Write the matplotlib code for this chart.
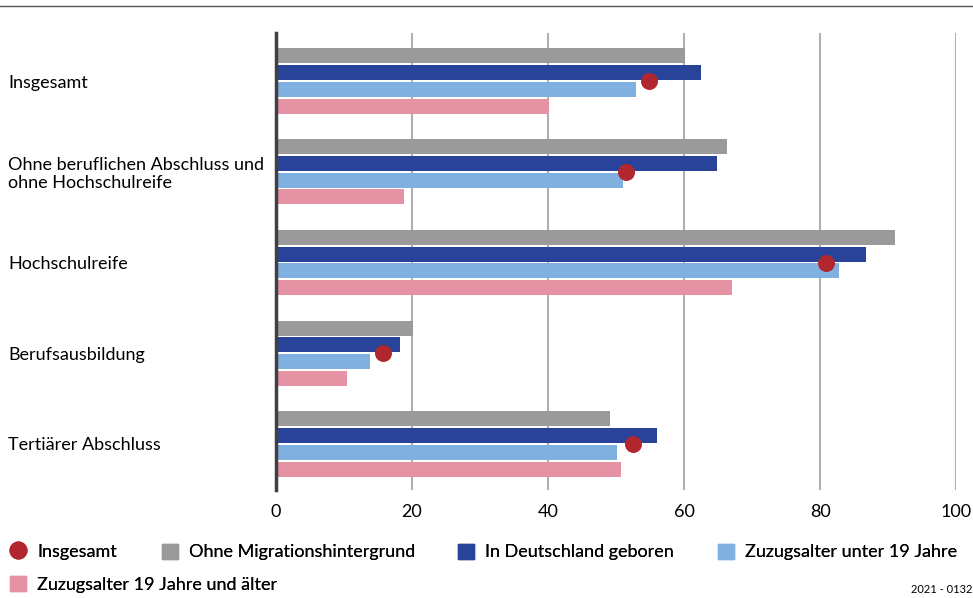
import numpy as np
import matplotlib
matplotlib.use("Agg")
import matplotlib.pyplot as plt
from matplotlib.lines import Line2D
from matplotlib.patches import Patch

plt.rcParams['font.family'] = ['Lato', 'DejaVu Sans']

categories = ["Insgesamt", "Ohne beruflichen Abschluss und\nohne Hochschulreife",
              "Hochschulreife", "Berufsausbildung", "Tertiärer Abschluss"]
series_names = ["Ohne Migrationshintergrund", "In Deutschland geboren",
                "Zuzugsalter unter 19 Jahre", "Zuzugsalter 19 Jahre und älter"]
ohne_migration = [60.1, 66.3, 91.0, 20.1, 49.1]
in_deutschland = [62.5, 64.8, 86.8, 18.2, 56.0]
zuzug_unter_19 = [53.0, 51.0, 82.8, 13.8, 50.2]
zuzug_ab_19 = [40.1, 18.8, 67.1, 10.4, 50.7]
insgesamt = [54.9, 51.4, 80.8, 15.8, 52.5]
x_ticks = [0, 20, 40, 60, 80, 100]

colors = ["#9a9a9a", "#29439a", "#80b0e0", "#e592a5"]
dot_color = "#b2262e"


def main():
    fig = plt.figure(figsize=(9.73, 5.98), dpi=100)
    ax = fig.add_axes([0.2837, 0.1806, 0.6989, 0.7642])

    y = np.arange(len(categories))
    step = 0.184
    height = 0.165
    all_series = [ohne_migration, in_deutschland, zuzug_unter_19, zuzug_ab_19]
    for i, values in enumerate(all_series):
        offset = (i - 1.5) * step
        ax.barh(y + offset, values, height=height, color=colors[i], zorder=2)

    ax.scatter(insgesamt, y, s=125, color=dot_color, zorder=3)

    ax.set_xlim(0, 100)
    ax.set_ylim(4.507, -0.529)
    ax.set_xticks(x_ticks)
    ax.set_xticklabels([str(t) for t in x_ticks], fontsize=13)
    ax.set_yticks(y)
    ax.set_yticklabels(categories, fontsize=13, ha="left", linespacing=1.15)
    ax.tick_params(axis="y", length=0, pad=193)
    ax.tick_params(axis="x", length=0, pad=10)
    ax.grid(axis="x", color="#b0b0b0", linewidth=1.5, zorder=0)
    for side in ["top", "right", "bottom"]:
        ax.spines[side].set_visible(False)
    ax.spines["left"].set_color("#404040")
    ax.spines["left"].set_linewidth(2.5)
    ax.spines["left"].set_zorder(4)

    # top rule
    fig.add_artist(Line2D([0, 1], [0.99, 0.99], transform=fig.transFigure,
                          color="#555555", linewidth=1))

    dot_handle = Line2D([], [], marker="o", linestyle="", color=dot_color, markersize=12)
    patches = [Patch(color=c) for c in colors]

    # legend entries placed one by one (x in px of the figure, row y as fraction)
    handles = [dot_handle] + patches
    labels = ["Insgesamt"] + series_names
    spots = [(10, 0.077), (162, 0.077), (458, 0.077), (718, 0.077), (10, 0.023)]
    for h, lab, (px, fy) in zip(handles, labels, spots):
        leg = fig.legend([h], [lab], loc="center left", bbox_to_anchor=(px / 973, fy),
                         frameon=False, fontsize=13, handlelength=0.9, handleheight=0.9,
                         handletextpad=0.6, borderpad=0, borderaxespad=0)
        fig.add_artist(leg)

    fig.text(0.9995, 0.005, "2021 - 0132", ha="right", va="bottom", fontsize=8)

    plt.savefig("out.png", dpi=100)


if __name__ == "__main__":
    main()
